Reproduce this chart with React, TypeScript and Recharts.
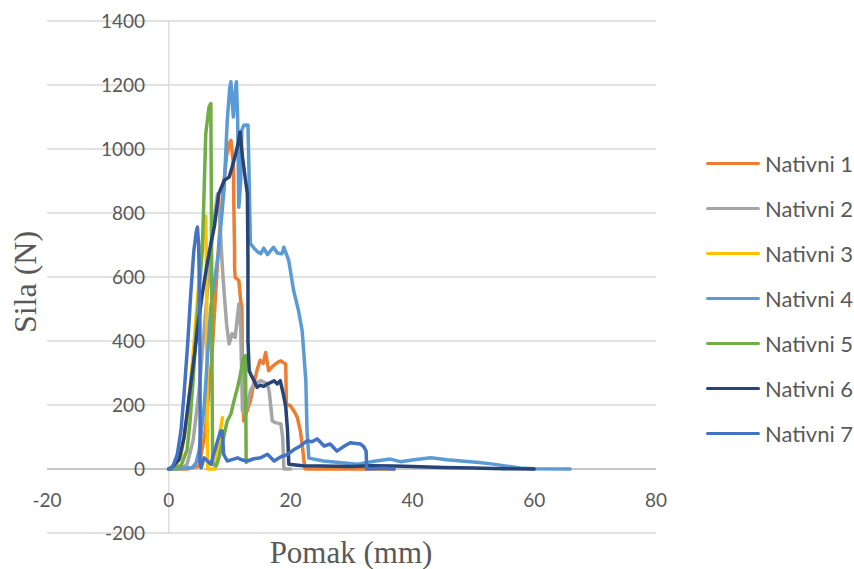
import { LineChart, Line, XAxis, YAxis, CartesianGrid, ReferenceLine, Legend } from 'recharts';

const xTicks = [-20, 0, 20, 40, 60, 80];
const yTicks = [-200, 0, 200, 400, 600, 800, 1000, 1200, 1400];

const seriesNames = ['Nativni 1', 'Nativni 2', 'Nativni 3', 'Nativni 4', 'Nativni 5', 'Nativni 6', 'Nativni 7'];

// pomak (mm), sila (N)
const nativni1: [number, number][] = [
  [0, 0], [3, 0], [5, 10], [6, 120], [7, 330], [7.6, 520], [8.2, 704], [8.8, 850], [9.5, 980], [10.0, 1020],
  [10.2, 1027], [10.4, 990], [10.6, 955], [10.7, 800], [10.8, 683], [10.8, 630], [10.9, 599], [11.5, 589],
  [11.8, 526], [12.0, 505], [12.1, 300], [12.3, 150], [13.0, 190], [13.4, 213], [14.0, 270], [14.5, 310],
  [15.0, 340], [15.5, 330], [15.9, 364], [16.4, 307], [17.0, 320], [17.5, 328], [18.0, 335], [18.4, 338],
  [19.0, 330], [19.2, 328], [19.3, 203], [20.0, 197], [20.6, 180], [21.1, 161], [21.6, 119], [22.0, 60],
  [22.2, 25], [22.4, 0], [30, 0], [37, 0],
];

const nativni2: [number, number][] = [
  [0, 0], [2, 0], [3, 15], [4, 90], [5, 250], [6, 480], [7, 700], [7.5, 790], [8.0, 860], [8.3, 800],
  [8.8, 630], [9.1, 547], [9.5, 450], [9.9, 391], [10.4, 423], [10.9, 411], [11.5, 516], [11.8, 443],
  [12.1, 182], [12.6, 172], [13.4, 244], [14.0, 266], [15.1, 276], [16.2, 266], [16.5, 240], [17.0, 150],
  [17.5, 145], [18.4, 141], [18.7, 98], [18.9, 0], [20, 0],
];

const nativni3: [number, number][] = [
  [0, 0], [1, 5], [2, 40], [3, 160], [4, 360], [4.6, 500], [5.2, 650], [5.7, 750], [6.07, 790], [6.2, 600],
  [6.3, 150], [6.4, 0], [7.6, 0], [8.0, 50], [8.4, 110], [8.8, 161],
];

const nativni4: [number, number][] = [
  [0, 0], [2, 2], [3.9, 5], [4.5, 20], [5, 60], [5.8, 192], [6.9, 505], [8.2, 683], [9.1, 881], [9.6, 1090],
  [10.0, 1190], [10.2, 1210], [10.4, 1150], [10.6, 1100], [10.9, 1180], [11.1, 1210], [11.3, 1100],
  [11.5, 818], [11.8, 900], [12.0, 1060], [12.3, 1074], [13.0, 1075], [13.2, 900], [13.4, 704], [14.0, 690],
  [14.5, 680], [15.1, 673], [15.6, 690], [16.2, 670], [17.2, 693], [17.8, 675], [18.6, 673], [18.9, 693],
  [19.7, 651], [20.5, 557], [21.3, 495], [21.9, 432], [22.5, 276], [22.7, 119], [23.0, 34], [25.4, 25],
  [28, 20], [31, 15], [34, 25], [36.4, 31], [38, 23], [40, 28], [43, 35], [45.7, 29], [48, 25], [51, 20],
  [53, 16], [55.5, 9], [57.7, 3], [60, 1], [65.9, 0],
];

const nativni5: [number, number][] = [
  [0, 0], [2, 10], [3, 60], [3.5, 150], [4, 280], [4.5, 430], [5, 560], [5.5, 683], [5.8, 870], [6.07, 1048],
  [6.6, 1131], [6.9, 1142], [7.0, 800], [7.1, 300], [7.2, 15], [7.8, 10], [8.3, 40], [9.0, 100], [9.6, 150],
  [10.2, 172], [10.8, 220], [11.3, 255], [11.8, 300], [12.3, 349], [12.6, 354], [12.7, 20],
];

const nativni6: [number, number][] = [
  [0, 0], [0.5, 5], [1, 15], [1.7, 30], [2.5, 98], [3.3, 220], [4.1, 338], [4.8, 450], [5.5, 547], [6.2, 630],
  [6.9, 704], [7.5, 760], [8.2, 860], [9.1, 902], [9.9, 912], [10.4, 944], [11.0, 986], [11.4, 1020],
  [11.7, 1053], [12.1, 975], [12.6, 902], [12.9, 860], [13.0, 651], [13.0, 400], [13.2, 307], [13.6, 290],
  [14.0, 276], [14.5, 255], [15.0, 262], [15.6, 258], [16.2, 266], [16.7, 270], [17.3, 276], [17.8, 266],
  [18.3, 276], [18.8, 234], [19.2, 195], [19.5, 119], [19.7, 15], [22, 10], [25, 9], [30, 8], [33, 10],
  [37, 9], [40, 8], [45, 5], [50, 3], [55, 1], [60, 0],
];

const nativni7: [number, number][] = [
  [0, 0], [0.3, 0], [0.8, 15], [1.4, 46], [2.0, 120], [2.5, 234], [3.1, 391], [3.6, 547], [4.1, 680], [4.5, 740],
  [4.7, 756], [4.9, 700], [5.1, 500], [5.15, 129], [5.1, 25], [5.3, 4], [5.8, 35], [6.9, 15], [7.7, 67],
  [8.5, 119], [8.8, 119], [9.0, 46], [9.6, 25], [10.5, 30], [11.3, 35], [12.1, 28], [12.9, 25], [14.0, 32],
  [15.1, 35], [16.2, 46], [17.3, 25], [18.4, 38], [19.5, 46], [20.5, 60], [21.6, 72], [22.7, 88], [23.5, 85],
  [24.4, 94], [25.5, 72], [26.5, 78], [27.6, 56], [28.7, 70], [29.8, 82], [30.7, 80], [31.5, 78], [32.0, 70],
  [32.4, 56], [32.5, 0], [35, 2], [37, 0],
];

const allSeries = [nativni1, nativni2, nativni3, nativni4, nativni5, nativni6, nativni7];
const colors = ['#ED7D31', '#A5A5A5', '#FFC000', '#5B9BD5', '#70AD47', '#264478', '#4472C4'];

const textColor = '#595959';
const tickFont = 'Lato, "Open Sans", sans-serif';
const titleFont = '"Liberation Serif", "DejaVu Serif", serif';

const renderXTick = (props: any) => (
  <text x={props.x} y={507} textAnchor="middle" fill={textColor} fontSize={19} fontFamily={tickFont}>
    {props.payload.value}
  </text>
);

const renderYTick = (props: any) => (
  <text x={145} y={props.y + 7} textAnchor="end" fill={textColor} fontSize={19} fontFamily={tickFont}>
    {props.payload.value}
  </text>
);

function LegendList({ payload }: any) {
  return (
    <div>
      {(payload || []).map((entry: any) => (
        <div key={entry.value} style={{ display: 'flex', alignItems: 'center', height: 45 }}>
          <span style={{ width: 54, height: 3, background: entry.color, borderRadius: 2, display: 'inline-block' }} />
          <span style={{ marginLeft: 5, fontFamily: tickFont, fontSize: 22, color: textColor, lineHeight: 1 }}>
            {entry.value}
          </span>
        </div>
      ))}
    </div>
  );
}

export default function App() {
  return (
    <div style={{ position: 'absolute', left: 0, top: 0, width: 854, height: 569, background: '#fff' }}>
      <LineChart width={854} height={569} margin={{ top: 21, right: 50, bottom: 35, left: 46 }}>
        <CartesianGrid horizontal vertical={false} stroke="#d9d9d9" strokeWidth={1.3} />
        <XAxis
          type="number"
          dataKey="x"
          domain={[-20, 80]}
          ticks={xTicks}
          interval={0}
          height={1}
          axisLine={false}
          tickLine={false}
          tick={renderXTick}
          allowDataOverflow
        />
        <YAxis
          type="number"
          dataKey="y"
          domain={[-200, 1400]}
          ticks={yTicks}
          interval={0}
          width={1}
          axisLine={false}
          tickLine={false}
          tick={renderYTick}
          allowDataOverflow
        />
        <ReferenceLine x={0} stroke="#d9d9d9" strokeWidth={1.3} />
        <ReferenceLine y={0} stroke="#bfbfbf" strokeWidth={1.3} />
        {allSeries.map((s, i) => (
          <Line
            key={seriesNames[i]}
            name={seriesNames[i]}
            data={s.map(([x, y]) => ({ x, y }))}
            dataKey="y"
            type="linear"
            stroke={colors[i]}
            strokeWidth={3.5}
            strokeLinejoin="round"
            strokeLinecap="round"
            dot={false}
            activeDot={false}
            isAnimationActive={false}
          />
        ))}
        <Legend
          layout="vertical"
          align="right"
          verticalAlign="top"
          wrapperStyle={{ left: 706, top: 141, width: 148 }}
          content={<LegendList />}
        />
      </LineChart>
      <div
        style={{
          position: 'absolute',
          left: 25,
          top: 282,
          transform: 'translate(-50%, -50%) rotate(-90deg)',
          fontFamily: titleFont,
          fontSize: 32,
          color: textColor,
          whiteSpace: 'nowrap',
          lineHeight: 1,
        }}
      >
        Sila (N)
      </div>
      <div
        style={{
          position: 'absolute',
          left: 351,
          top: 537,
          transform: 'translateX(-50%)',
          fontFamily: titleFont,
          fontSize: 31,
          color: textColor,
          whiteSpace: 'nowrap',
          lineHeight: 1,
        }}
      >
        Pomak (mm)
      </div>
    </div>
  );
}
